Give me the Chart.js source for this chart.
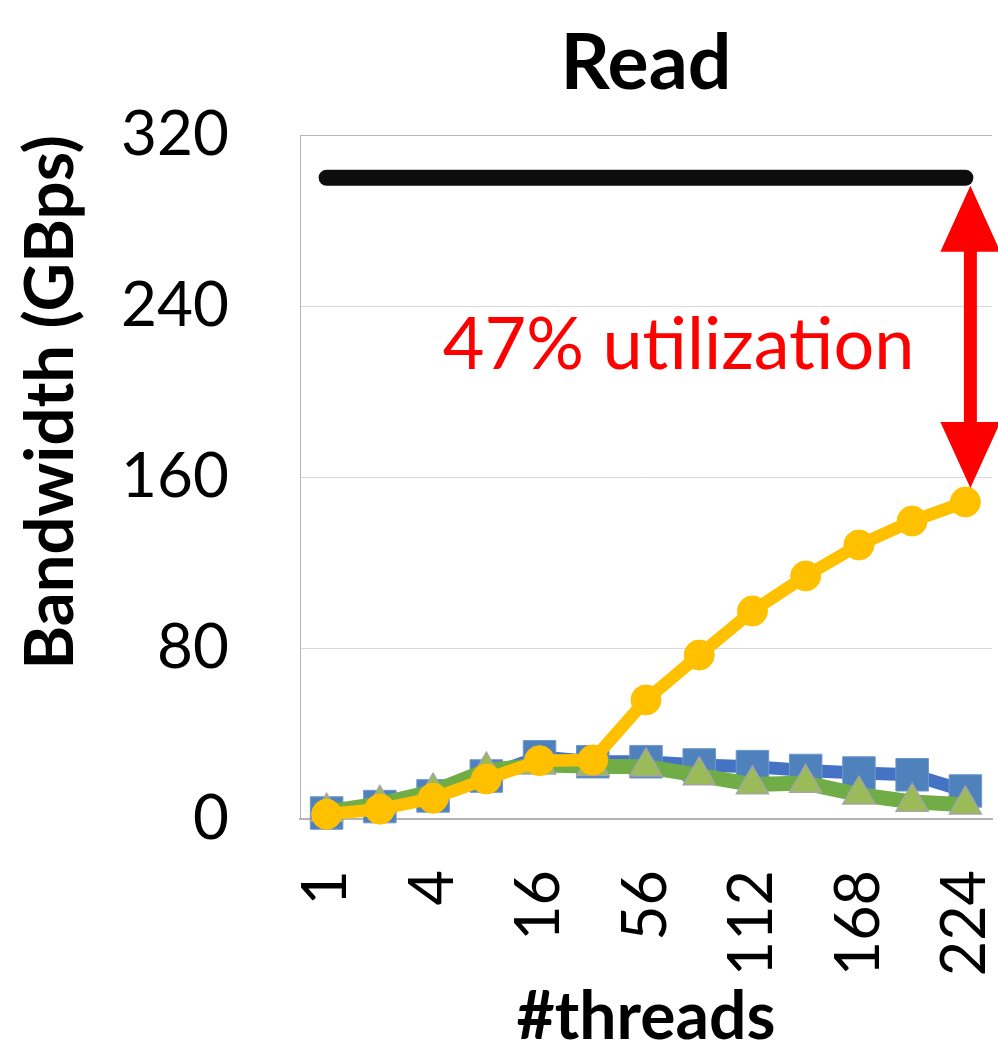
<!DOCTYPE html>
<html>
<head>
<meta charset="utf-8">
<title>Read bandwidth vs threads</title>
<script src="https://cdn.jsdelivr.net/npm/chart.js@4.4.1/dist/chart.umd.min.js"></script>
<style>
  html, body { margin: 0; padding: 0; background: #ffffff; }
  #wrap { width: 998px; height: 1044px; position: relative; }
</style>
</head>
<body>
<div id="wrap"><canvas id="chart" width="998" height="1044"></canvas></div>
<script>
// Thread counts on the x axis (every other one gets a printed label)
const threadCounts = [1, 2, 4, 8, 16, 28, 56, 84, 112, 140, 168, 196, 224];

// Read bandwidth in GBps
const peakBandwidth = [300, 300, 300, 300, 300, 300, 300, 300, 300, 300, 300, 300, 300];
const blueBandwidth = [2.8, 5.8, 10.8, 20.1, 29.1, 26.8, 26.8, 25.3, 24.5, 22.7, 21.5, 20.7, 13.1];
const greenBandwidth = [3.3, 7.0, 12.8, 22.6, 25.4, 24.7, 24.5, 20.4, 16.1, 16.8, 11.4, 8.0, 6.7];
const yellowBandwidth = [2.2, 4.6, 9.7, 18.7, 27.3, 27.6, 55.7, 76.7, 97.3, 113.7, 128.2, 139.4, 148.3];

// Y axis ticks
const yTicks = [0, 80, 160, 240, 320];

const utilizationText = '47% utilization';

const FONT = 'Lato';

// Double-headed arrow from the peak line down to the last yellow point, plus its caption
const gapArrow = {
  id: 'gapArrow',
  afterDatasetsDraw(chart) {
    const { ctx, scales: { x, y } } = chart;
    const last = threadCounts.length - 1;
    const ax = x.getPixelForValue(last) + 5;
    const yTop = y.getPixelForValue(peakBandwidth[last]) + 8;
    const yBot = y.getPixelForValue(yellowBandwidth[last]) - 14;
    const headW = 30, headH = 66, shaft = 6.5;
    ctx.save();
    ctx.fillStyle = '#ff0000';
    ctx.beginPath();
    ctx.moveTo(ax, yTop);
    ctx.lineTo(ax + headW, yTop + headH);
    ctx.lineTo(ax + shaft, yTop + headH);
    ctx.lineTo(ax + shaft, yBot - headH);
    ctx.lineTo(ax + headW, yBot - headH);
    ctx.lineTo(ax, yBot);
    ctx.lineTo(ax - headW, yBot - headH);
    ctx.lineTo(ax - shaft, yBot - headH);
    ctx.lineTo(ax - shaft, yTop + headH);
    ctx.lineTo(ax - headW, yTop + headH);
    ctx.closePath();
    ctx.fill();

    const size = 72;
    ctx.font = size + 'px ' + FONT;
    ctx.textAlign = 'right';
    ctx.textBaseline = 'alphabetic';
    ctx.fillText(utilizationText, ax - 56, (yTop + yBot) / 2 + 0.44 * size);
    ctx.restore();
  }
};

new Chart(document.getElementById('chart'), {
  type: 'line',
  data: {
    labels: threadCounts.map(String),
    datasets: [
      {
        label: 'Yellow',
        data: yellowBandwidth,
        order: 0,
        borderColor: '#ffc000',
        backgroundColor: '#ffc000',
        borderWidth: 12.5,
        pointStyle: 'circle',
        pointRadius: 15,
        pointBorderWidth: 1,
        pointBorderColor: '#ffc000',
        pointBackgroundColor: '#ffc000',
        tension: 0,
        clip: false
      },
      {
        label: 'Green',
        data: greenBandwidth,
        order: 1,
        borderColor: '#70ad47',
        backgroundColor: '#9bbb59',
        borderWidth: 15,
        pointStyle: 'triangle',
        pointRadius: 18.5,
        pointBorderWidth: 1.5,
        pointBorderColor: '#a5a5a5',
        pointBackgroundColor: '#9bbb59',
        tension: 0,
        clip: false
      },
      {
        label: 'Blue',
        data: blueBandwidth,
        order: 2,
        borderColor: '#4472c4',
        backgroundColor: '#4f81bd',
        borderWidth: 13,
        pointStyle: 'rect',
        pointRadius: 23,
        pointBorderWidth: 1,
        pointBorderColor: '#6f98cc',
        pointBackgroundColor: '#4f81bd',
        tension: 0,
        clip: false
      },
      {
        label: 'Peak',
        data: peakBandwidth,
        order: 3,
        borderColor: '#0d0d0d',
        borderWidth: 16,
        borderCapStyle: 'round',
        pointRadius: 0,
        tension: 0,
        clip: false
      }
    ]
  },
  options: {
    responsive: false,
    animation: false,
    events: [],
    layout: { autoPadding: false, padding: { left: 0, right: 6, top: 0, bottom: 0 } },
    plugins: {
      legend: { display: false },
      tooltip: { enabled: false },
      title: {
        display: true,
        fullSize: false,
        text: 'Read',
        color: '#000000',
        font: { family: FONT, size: 77, weight: 'bold', lineHeight: 1.2 },
        padding: { top: 18.3, bottom: 24.3 }
      }
    },
    scales: {
      x: {
        offset: true,
        grid: { display: false, drawTicks: false },
        border: { display: true, color: '#b4b4b4', width: 2 },
        ticks: {
          autoSkip: false,
          minRotation: 90,
          maxRotation: 90,
          padding: 51,
          color: '#000000',
          font: { family: FONT, size: 61 },
          callback: (v, i) => (i % 2 === 0 ? threadCounts[i] : '')
        },
        title: {
          display: true,
          text: '#threads',
          color: '#000000',
          font: { family: FONT, size: 66, weight: 'bold', lineHeight: 0.8 },
          padding: { top: 0, bottom: 0 }
        },
        afterFit: (scale) => {
          scale.height = 225;
          scale.paddingLeft = 0;
          scale.paddingRight = 0;
        }
      },
      y: {
        min: yTicks[0],
        max: yTicks[yTicks.length - 1],
        afterBuildTicks: (axis) => { axis.ticks = yTicks.map(v => ({ value: v })); },
        grid: {
          drawTicks: false,
          lineWidth: 1,
          color: (c) => (c.tick && c.tick.value === yTicks[yTicks.length - 1] ? '#b7b7b7' : '#d9d9d9')
        },
        border: { display: true, color: '#b4b4b4', width: 1 },
        ticks: {
          padding: 71,
          color: '#000000',
          font: { family: FONT, size: 62 }
        },
        title: {
          display: true,
          text: 'Bandwidth (GBps)',
          align: 'end',
          color: '#000000',
          font: { family: FONT, size: 67, weight: 'bold', lineHeight: 1.2 },
          padding: { top: 11, bottom: 30 }
        },
        afterFit: (scale) => {
          scale.width = 300;
          scale.paddingTop = 0;
          scale.paddingBottom = 0;
        }
      }
    }
  },
  plugins: [gapArrow]
});
</script>
</body>
</html>
